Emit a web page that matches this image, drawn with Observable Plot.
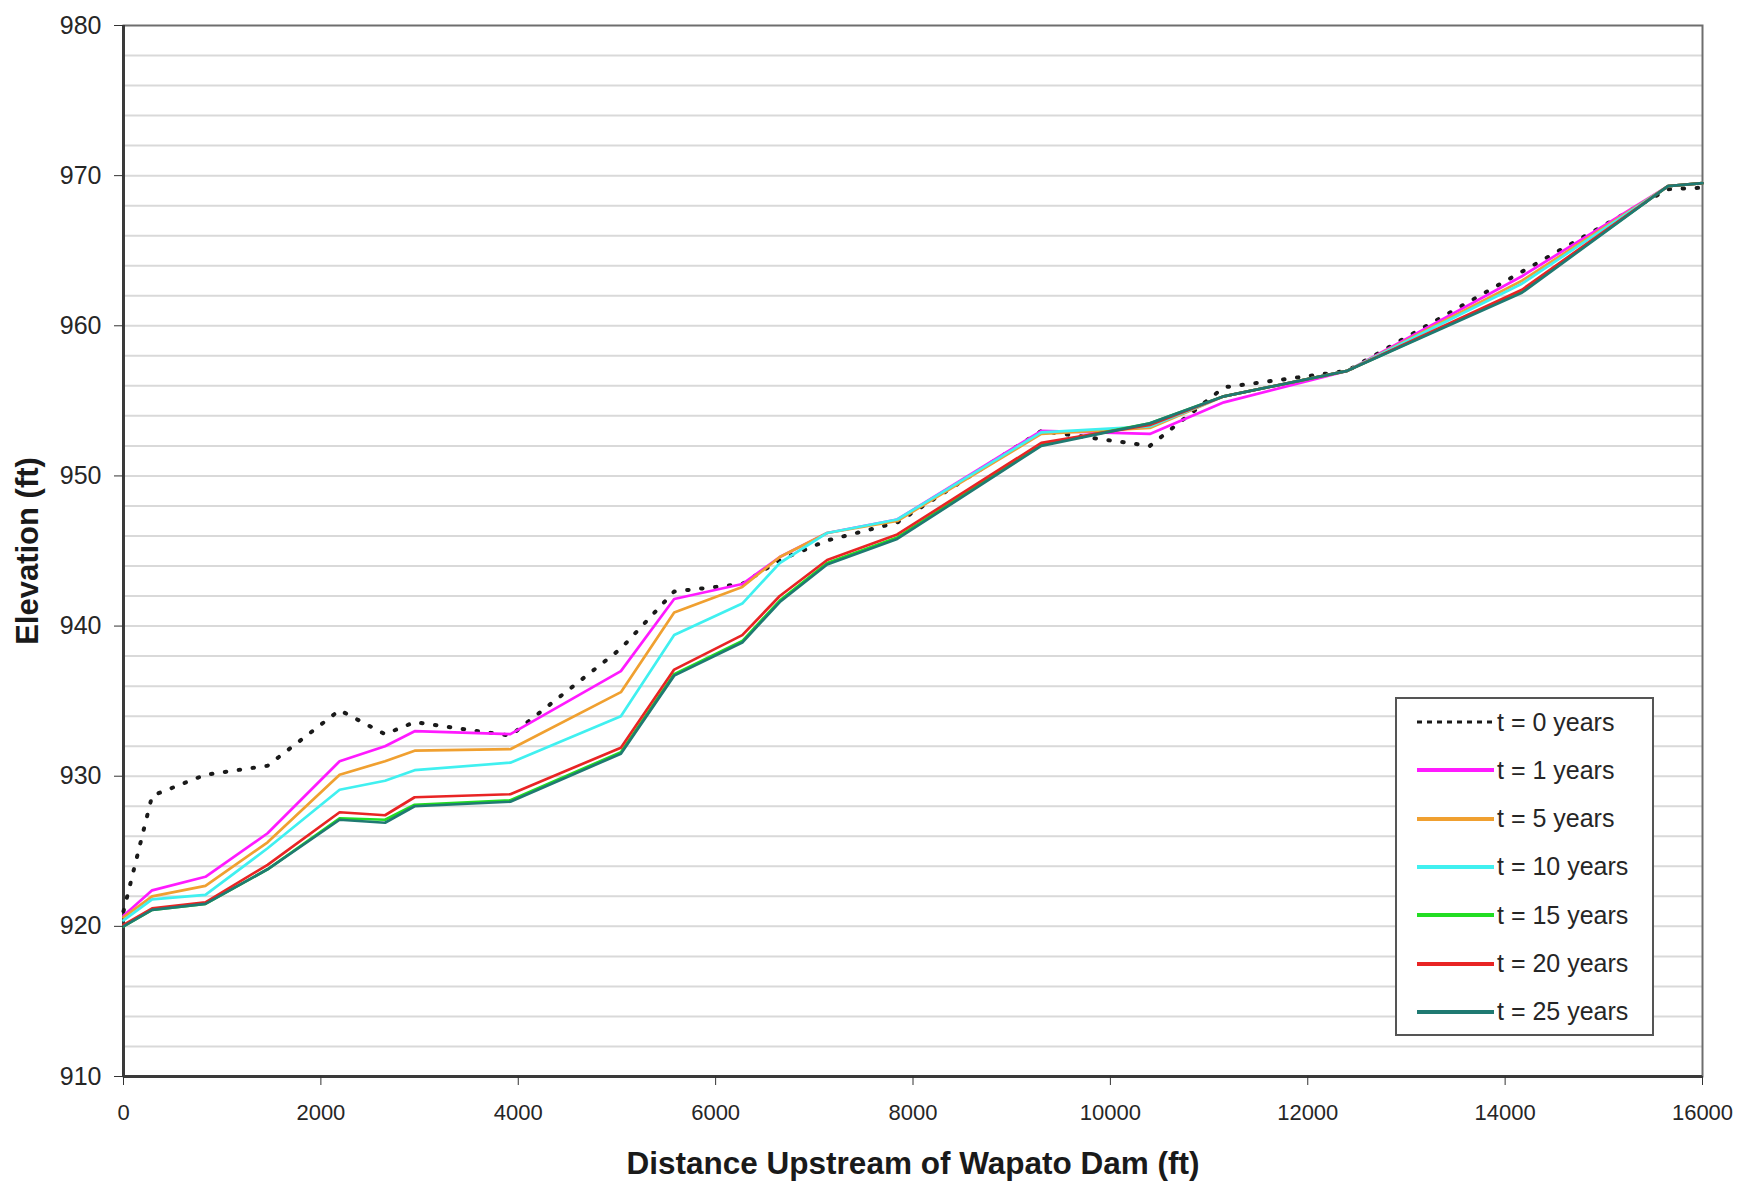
<!DOCTYPE html>
<html>
<head>
<meta charset="utf-8">
<script src="https://cdn.jsdelivr.net/npm/d3@7"></script>
<script src="https://cdn.jsdelivr.net/npm/@observablehq/plot@0.6"></script>
<style>
  html, body { margin: 0; padding: 0; background: #fff; }
  #wrap { position: relative; width: 1758px; height: 1183px; font-family: "Liberation Sans", Arial, sans-serif; }
  #legend { position: absolute; left: 1395px; top: 697px; width: 255px; height: 335px; border: 2.5px solid #555; background: #fff; }
  .row { position: absolute; left: 0; height: 30px; display: flex; align-items: center; }
  .row svg { margin-left: 20px; }
  .row span { font-size: 25px; color: #262626; margin-left: 3px; white-space: nowrap; }
</style>
</head>
<body>
<div id="wrap"><div id="chart"></div><div id="legend"></div></div>
<script>
// ---- data ----
const distance = [0, 290, 830, 1460, 2190, 2650, 2950, 3920, 5040, 5580, 6270, 6650, 7130, 7840, 9300, 10400, 11150, 12400, 14170, 15650, 16000];
const t0  = [921.0, 928.7, 930.1, 930.7, 934.4, 932.8, 933.6, 932.7, 938.5, 942.3, 942.8, 944.4, 945.7, 946.9, 953.0, 952.0, 955.9, 957.0, 963.6, 969.1, 969.2];
const t1  = [920.7, 922.4, 923.3, 926.2, 931.0, 932.0, 933.0, 932.8, 937.0, 941.8, 942.8, 944.6, 946.2, 947.1, 953.0, 952.8, 954.9, 957.0, 963.3, 969.3, 969.5];
const t5  = [920.6, 922.0, 922.7, 925.6, 930.1, 931.0, 931.7, 931.8, 935.6, 940.9, 942.6, 944.6, 946.2, 947.0, 952.8, 953.2, 955.3, 957.0, 963.0, 969.3, 969.5];
const t10 = [920.4, 921.8, 922.1, 925.2, 929.1, 929.7, 930.4, 930.9, 934.0, 939.4, 941.5, 944.2, 946.2, 947.1, 952.9, 953.3, 955.3, 957.0, 962.8, 969.3, 969.5];
const t15 = [920.0, 921.1, 921.5, 923.8, 927.2, 927.1, 928.1, 928.4, 931.6, 936.8, 939.0, 941.7, 944.2, 945.9, 952.1, 953.5, 955.3, 957.0, 962.3, 969.3, 969.5];
const t20 = [920.1, 921.2, 921.6, 924.1, 927.6, 927.4, 928.6, 928.8, 931.9, 937.1, 939.4, 942.0, 944.4, 946.1, 952.2, 953.4, 955.3, 957.0, 962.4, 969.3, 969.5];
const t25 = [920.0, 921.1, 921.5, 923.8, 927.1, 926.9, 928.0, 928.3, 931.5, 936.7, 938.9, 941.6, 944.1, 945.8, 952.0, 953.5, 955.3, 957.0, 962.2, 969.3, 969.5];

const seriesNames = ["t = 0 years", "t = 1 years", "t = 5 years", "t = 10 years", "t = 15 years", "t = 20 years", "t = 25 years"];
const seriesValues = [t0, t1, t5, t10, t15, t20, t25];
const seriesColors = ["#1a1a1a", "#ff1aff", "#f0a030", "#40f0f0", "#22dd22", "#e82424", "#1f7a72"];

const xTicks = [0, 2000, 4000, 6000, 8000, 10000, 12000, 14000, 16000];
const yTicks = [910, 920, 930, 940, 950, 960, 970, 980];
const yGrid = d3.range(912, 980, 2);
const xDomain = [0, 16000];
const yDomain = [910, 980];

// ---- build table ----
const rows = seriesNames.flatMap((name, s) =>
  distance.map((d, i) => ({ series: name, x: d, y: seriesValues[s][i] })));

const lineMarks = seriesNames.map((name, s) => {
  const opts = { x: "x", y: "y", stroke: seriesColors[s], strokeWidth: 2.7, strokeLinejoin: "round" };
  if (s === 0) Object.assign(opts, { strokeWidth: 4, strokeDasharray: "1.5,12.5", strokeLinecap: "round" });
  return Plot.line(rows.filter(r => r.series === name), opts);
});

const chart = Plot.plot({
  width: 1758,
  height: 1183,
  marginLeft: 123,
  marginRight: 56,
  marginTop: 25,
  marginBottom: 107,
  style: { fontFamily: "'Liberation Sans', Arial, sans-serif", background: "#fff", color: "#262626" },
  x: { domain: xDomain },
  y: { domain: yDomain },
  marks: [
    Plot.ruleY(yGrid, { stroke: "#d9d9d9", strokeWidth: 2 }),
    Plot.frame({ stroke: "#6e6e6e", strokeWidth: 2 }),
    Plot.ruleX([xDomain[0]], { stroke: "#3a3a3a", strokeWidth: 3 }),
    Plot.ruleY([yDomain[0]], { stroke: "#3a3a3a", strokeWidth: 3 }),
    ...lineMarks,
    Plot.axisY(yTicks, { tickSize: 9, tickPadding: 13, fontSize: 25, label: null, stroke: "#333", fill: "#262626", tickFormat: d => String(d) }),
    Plot.axisX(xTicks, { tickSize: 9, tickPadding: 19, fontSize: 22, label: null, stroke: "#333", fill: "#262626", tickFormat: d => String(d) }),
    Plot.text(["Distance Upstream of Wapato Dam (ft)"], { frameAnchor: "bottom", dy: 97, fontSize: 31.5, fontWeight: "bold", fill: "#1a1a1a" }),
    Plot.text(["Elevation (ft)"], { frameAnchor: "left", dx: -95, rotate: -90, textAnchor: "middle", fontSize: 31, fontWeight: "bold", fill: "#1a1a1a" })
  ]
});
document.getElementById("chart").appendChild(chart);

// ---- legend ----
const legend = document.getElementById("legend");
seriesNames.forEach((name, s) => {
  const row = document.createElement("div");
  row.className = "row";
  row.style.top = (23 + s * 48.3 - 15) + "px";
  const dash = s === 0 ? 'stroke-dasharray="5,5" stroke-width="3"' : 'stroke-width="4"';
  row.innerHTML = `<svg width="77" height="30"><line x1="0" x2="77" y1="15" y2="15" stroke="${seriesColors[s]}" ${dash}/></svg><span>${name}</span>`;
  legend.appendChild(row);
});
</script>
</body>
</html>
